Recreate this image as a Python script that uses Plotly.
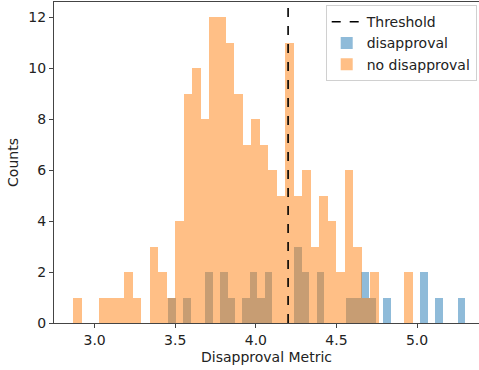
import plotly.graph_objects as go

# ---- data ----
threshold = 4.2

no_dis_start = 2.867
no_dis_width = 0.05265
no_dis_counts = [1, 0, 0, 1, 1, 1, 2, 1, 0, 3,
                 2, 1, 4, 9, 10, 8, 12, 12, 11, 9,
                 7, 8, 7, 6, 5, 11, 5, 6, 3, 5,
                 4, 2, 6, 3, 1, 2, 0, 0, 0, 2]

dis_start = 3.4568
dis_width = 0.046
dis_counts = [1, 0, 1, 0, 0, 2, 0, 2, 1, 0,
              1, 2, 1, 2, 0, 0, 0, 3, 2, 0,
              2, 0, 0, 0, 1, 1, 2, 1, 0, 1,
              0, 0, 0, 0, 2, 0, 1, 0, 0, 1]

x_range = [2.748, 5.384]
y_range = [0, 12.6]

no_dis_x = [no_dis_start + (i + 0.5) * no_dis_width for i in range(len(no_dis_counts))]
dis_x = [dis_start + (i + 0.5) * dis_width for i in range(len(dis_counts))]

fig = go.Figure()
fig.add_trace(go.Bar(x=dis_x, y=dis_counts, width=dis_width, name="disapproval",
                     marker=dict(color="rgba(31,119,180,0.5)", line=dict(width=0)),
                     legendrank=2))
fig.add_trace(go.Bar(x=no_dis_x, y=no_dis_counts, width=no_dis_width, name="no disapproval",
                     marker=dict(color="rgba(255,127,14,0.5)", line=dict(width=0)),
                     legendrank=3))
fig.add_trace(go.Scatter(x=[threshold, threshold], y=y_range, mode="lines", name="Threshold",
                         line=dict(color="black", dash="dash", width=1.6),
                         legendrank=1))

font_family = "DejaVu Sans"
fig.update_layout(
    width=479, height=370,
    margin=dict(l=54, r=0, t=2, b=47),
    paper_bgcolor="white", plot_bgcolor="white",
    barmode="overlay", bargap=0,
    font=dict(family=font_family, size=14, color="#222"),
    showlegend=True,
    legend=dict(x=0.9946, y=0.99, xanchor="right", yanchor="top",
                bgcolor="rgba(255,255,255,0.8)", bordercolor="#d0d0d0", borderwidth=1,
                font=dict(size=14), tracegroupgap=0),
    xaxis=dict(range=x_range, showgrid=False, zeroline=False,
               showline=True, linecolor="#444", linewidth=1, mirror=True,
               ticks="outside", ticklen=4, tickcolor="#444",
               tickvals=[3.0, 3.5, 4.0, 4.5, 5.0], ticktext=["3.0", "3.5", "4.0", "4.5", "5.0"],
               title=dict(text="Disapproval Metric", font=dict(size=14), standoff=5)),
    yaxis=dict(range=y_range, showgrid=False, zeroline=False,
               showline=True, linecolor="#444", linewidth=1,
               ticks="outside", ticklen=4, tickcolor="#444",
               tickvals=[0, 2, 4, 6, 8, 10, 12],
               title=dict(text="Counts", font=dict(size=14), standoff=6)),
)

fig.write_html("out.html")
